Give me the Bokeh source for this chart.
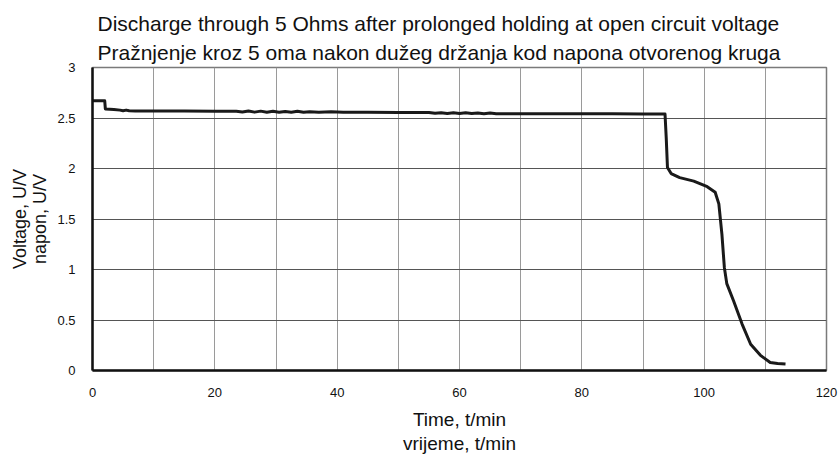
from bokeh.plotting import figure
from bokeh.models import Range1d, FixedTicker, Title
from bokeh.embed import file_html
from bokeh.resources import INLINE

# ---- data ----
time_min = [0.0, 2.0, 2.1, 3.5, 4.5, 5.0, 5.5, 6.0, 7.0, 10.0, 15.0, 20.0, 23.5,
            24.5, 25.5, 26.5, 27.5, 28.5, 29.5, 30.5, 31.5, 32.5, 33.5, 34.5,
            35.5, 37.0, 39.0, 41.0, 45.0, 50.0, 55.0, 56.0, 57.0, 58.0, 59.0,
            60.0, 61.0, 62.0, 63.0, 64.0, 65.0, 66.0, 68.0, 70.0, 75.0, 80.0,
            85.0, 90.0, 93.6, 93.8, 94.0, 94.6, 96.0, 98.3, 100.5, 101.8, 102.4,
            102.9, 103.3, 103.7, 104.8, 106.2, 107.6, 109.2, 110.8, 112.0, 113.3]
voltage = [2.67, 2.67, 2.59, 2.585, 2.578, 2.572, 2.578, 2.572, 2.57, 2.57, 2.569,
           2.568, 2.567, 2.560, 2.570, 2.558, 2.568, 2.557, 2.566, 2.556, 2.565,
           2.557, 2.566, 2.556, 2.563, 2.558, 2.562, 2.556, 2.556, 2.555, 2.555,
           2.546, 2.553, 2.545, 2.552, 2.544, 2.551, 2.544, 2.550, 2.543, 2.549,
           2.543, 2.542, 2.541, 2.541, 2.541, 2.541, 2.540, 2.540, 2.30, 2.01,
           1.95, 1.91, 1.875, 1.82, 1.765, 1.65, 1.35, 1.02, 0.86, 0.69, 0.46,
           0.26, 0.15, 0.08, 0.07, 0.065]

x_ticks = [0, 20, 40, 60, 80, 100, 120]
x_minor = [10, 30, 50, 70, 90, 110]
y_ticks = [0, 0.5, 1, 1.5, 2, 2.5, 3]
y_tick_labels = ["0", "0.5", "1", "1.5", "2", "2.5", "3"]

title_lines = ["Discharge through 5 Ohms after prolonged holding at open circuit voltage",
               "Pražnjenje kroz 5 oma nakon dužeg držanja kod napona otvorenog kruga"]
x_label = "Time, t/min\nvrijeme, t/min"
y_label = "Voltage, U/V\nnapon, U/V"

FONT = "Liberation Sans"
W, H = 840, 457
L, R, T, B = 92, 14, 67, 87

p = figure(width=W, height=H, output_backend="svg", toolbar_location=None,
           x_range=Range1d(0, 120), y_range=Range1d(0, 3),
           min_border_left=L, min_border_right=R, min_border_top=T, min_border_bottom=B)
p.background_fill_color = "white"
p.border_fill_color = "white"
p.outline_line_color = "#7a7a7a"
p.outline_line_width = 1.5

p.line(time_min, voltage, line_color="#1a1a1a", line_width=3, line_join="round")

# titles: first added sits closest to the frame
for text, so in zip(reversed(title_lines), [8, 0]):
    p.add_layout(Title(text=text, align="left", offset=5, text_font=FONT,
                       text_font_size="21px", text_font_style="normal",
                       text_color="#111111", standoff=so), "above")

# axes
for ax in (p.xaxis[0], p.yaxis[0]):
    ax.axis_line_color = "#111111"
    ax.axis_line_width = 2.5
    ax.major_tick_in = 0
    ax.major_tick_out = 0
    ax.minor_tick_in = 0
    ax.minor_tick_out = 0
    ax.major_label_text_font = FONT
    ax.major_label_text_font_size = "13px"
    ax.major_label_text_color = "#111111"
    ax.major_label_standoff = 17
    ax.axis_label_text_font = FONT
    ax.axis_label_text_font_style = "normal"
    ax.axis_label_text_color = "#111111"

p.xaxis.axis_label = x_label
p.yaxis.axis_label = y_label
p.xaxis.axis_label_text_font_size = "19px"
p.yaxis.axis_label_text_font_size = "18px"
p.xaxis.axis_label_text_line_height = 1.15
p.yaxis.axis_label_text_line_height = 1.0
p.xaxis.axis_label_standoff = 9
p.yaxis.axis_label_standoff = 4

p.xaxis.ticker = FixedTicker(ticks=x_ticks, minor_ticks=x_minor)
p.yaxis.ticker = FixedTicker(ticks=y_ticks)
p.yaxis.major_label_overrides = {v: s for v, s in zip(y_ticks, y_tick_labels)}

p.xgrid.grid_line_color = "#9a9a9a"
p.xgrid.minor_grid_line_color = "#9a9a9a"
p.xgrid.grid_line_width = 1
p.ygrid.grid_line_color = "#555555"
p.ygrid.grid_line_width = 1

open("out.html", "w").write(file_html(p, INLINE))
